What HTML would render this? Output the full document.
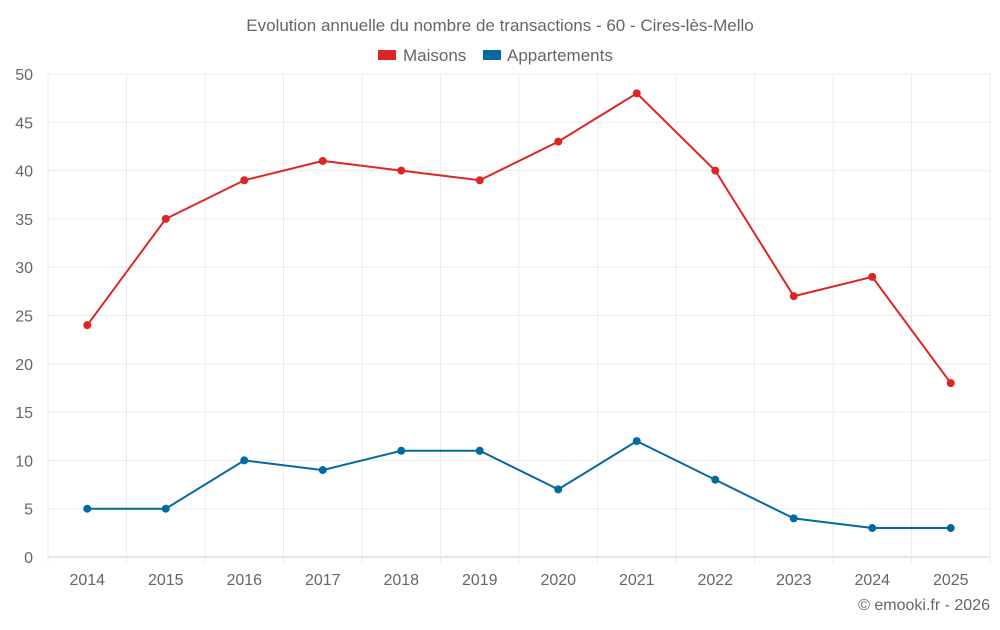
<!DOCTYPE html>
<html><head><meta charset="utf-8"><style>
body{margin:0;background:#fff;font-family:"Liberation Sans",sans-serif}
svg text{font-family:"Liberation Sans",sans-serif;fill:#666}
</style></head><body>
<svg id="chart" width="1000" height="625">
<text x="500" y="31" text-anchor="middle" font-size="17">Evolution annuelle du nombre de transactions - 60 - Cires-lès-Mello</text>
<g>
<g><rect x="378" y="50" width="18" height="10" fill="#dc2626"/><text x="403" y="61" font-size="17">Maisons</text></g>
<g><rect x="483" y="50" width="18" height="10" fill="#0369a1"/><text x="507" y="61" font-size="17">Appartements</text></g>
</g>
<g id="grid"></g><g id="axes"></g><g id="series"></g>
<text x="990" y="610" text-anchor="end" font-size="16">© emooki.fr - 2026</text>
</svg>
<script>
const years=["2014","2015","2016","2017","2018","2019","2020","2021","2022","2023","2024","2025"];
const maisons=[24,35,39,41,40,39,43,48,40,27,29,18];
const appartements=[5,5,10,9,11,11,7,12,8,4,3,3];
const yTicks=[0,5,10,15,20,25,30,35,40,45,50];
const L=48,R=990,T=74,B=557,yMax=50;
const bw=(R-L)/years.length;
const x=i=>L+bw*(i+0.5);
const y=v=>B-(v/yMax)*(B-T);
const NS="http://www.w3.org/2000/svg";
function mk(tag,attrs,parent){const e=document.createElementNS(NS,tag);for(const k in attrs)e.setAttribute(k,attrs[k]);parent.appendChild(e);return e;}
const grid=document.getElementById('grid'),axes=document.getElementById('axes'),series=document.getElementById('series');
yTicks.forEach(t=>{
  const l=mk('line',{x1:L,x2:R,y1:y(t),y2:y(t),stroke:t===0?'#ccc':'#ebebeb','stroke-width':1},grid);
  
  
  const tx=mk('text',{x:33,y:y(t)+6,'text-anchor':'end','font-size':16},axes);
  tx.textContent=t;
  
  
});
for(let i=0;i<=years.length;i++){
  const gx=L+bw*i;
  const l=mk('line',{x1:gx,x2:gx,y1:T,y2:B+6,stroke:'#ebebeb','stroke-width':1},grid);
  
  
}
years.forEach((yr,i)=>{
  const tx=mk('text',{x:x(i),y:585,'text-anchor':'middle','font-size':16},axes);
  tx.textContent=yr;
  
  
});
function draw(data,color,name){
  const p=mk('polyline',{points:data.map((v,i)=>x(i)+','+y(v)).join(' '),fill:'none',stroke:color,'stroke-width':2},series);
  
  
  data.forEach((v,i)=>{
    const c=mk('circle',{cx:x(i),cy:y(v),r:4,fill:color},series);
    
    
  });
}
draw(maisons,'#dc2626','maisons');
draw(appartements,'#0369a1','appartements');
</script>
</body></html>
